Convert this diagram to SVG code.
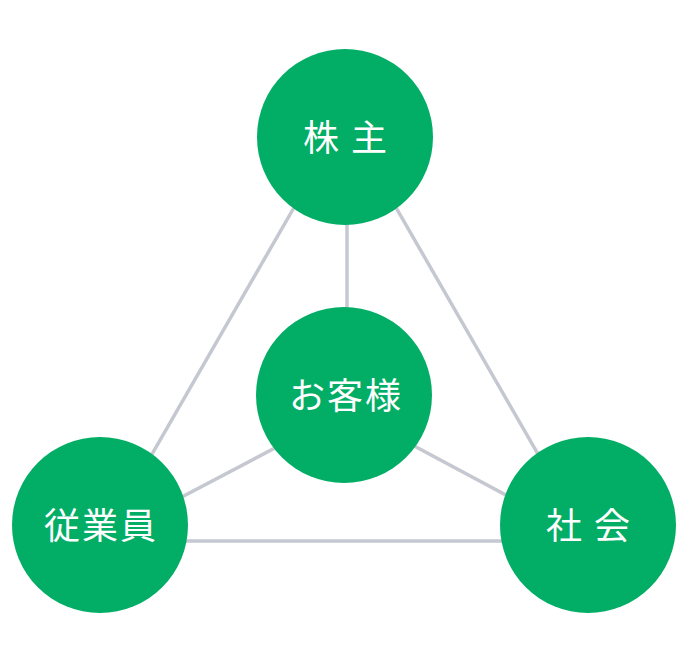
<svg xmlns="http://www.w3.org/2000/svg" width="690" height="661" viewBox="0 0 690 661">
<style>
.edge{stroke:#c5c8d0;stroke-width:3.5;fill:none;stroke-linecap:butt}
.node circle{fill:#02ad66}
.node text{fill:#ffffff;font-family:"Noto Sans CJK JP","Noto Sans CJK SC",sans-serif;font-size:36px;text-anchor:middle;letter-spacing:2px}
</style>
<rect width="690" height="661" fill="#ffffff"/>
<g id="connectors">
<line class="edge" x1="345" y1="119" x2="102" y2="541"/>
<line class="edge" x1="345" y1="119" x2="588" y2="541"/>
<line class="edge" x1="102" y1="541" x2="588" y2="541"/>
<line class="edge" x1="347" y1="137" x2="347" y2="410"/>
<line class="edge" x1="347" y1="410" x2="102" y2="539"/>
<line class="edge" x1="347" y1="410" x2="588" y2="539"/>
</g>
<g id="node-kabunushi" class="node">
<circle cx="345" cy="137" r="88"/>
<text x="346" y="151">株 主</text>
</g>
<g id="node-okyakusama" class="node">
<circle cx="344" cy="395" r="88"/>
<text x="346" y="409">お客様</text>
</g>
<g id="node-jugyoin" class="node">
<circle cx="100" cy="525" r="88"/>
<text x="101" y="539">従業員</text>
</g>
<g id="node-shakai" class="node">
<circle cx="588" cy="525" r="88"/>
<text x="589" y="539">社 会</text>
</g>
</svg>
